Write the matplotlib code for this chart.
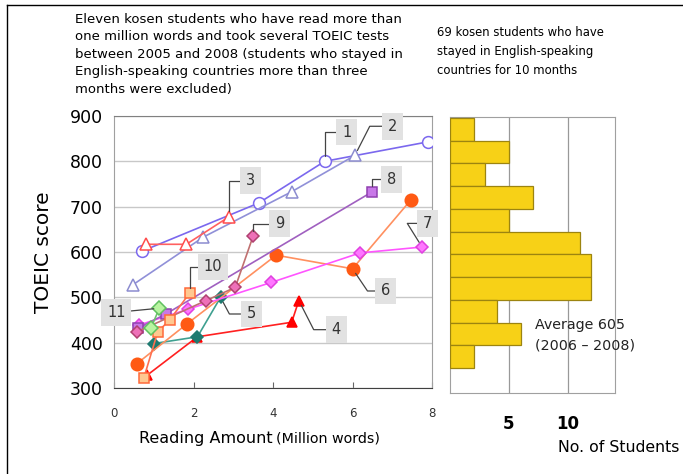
import matplotlib
matplotlib.use('Agg')
import matplotlib.pyplot as plt
from matplotlib.lines import Line2D

# reading amount (million words) vs TOEIC score, one list pair per student
s1_x = [0.71, 3.64, 5.30, 7.90]
s1_y = [602, 708, 800, 843]
s2_x = [0.48, 2.25, 4.47, 6.06]
s2_y = [528, 633, 733, 813]
s3_x = [0.81, 1.82, 2.90]
s3_y = [617, 617, 678]
s4_x = [0.83, 2.10, 4.47, 4.65]
s4_y = [328, 413, 445, 493]
s5_x = [1.00, 2.10, 2.68]
s5_y = [398, 413, 500]
s6_x = [0.58, 1.83, 4.08, 6.00, 7.47]
s6_y = [354, 441, 593, 563, 715]
s7_x = [0.63, 1.87, 3.96, 6.19, 7.75]
s7_y = [439, 474, 533, 598, 611]
s8_x = [0.60, 1.30, 6.50]
s8_y = [432, 463, 733]
s9_x = [0.58, 2.32, 3.05, 3.50]
s9_y = [424, 493, 522, 635]
s10_x = [0.75, 1.10, 1.40, 1.90]
s10_y = [322, 424, 450, 509]
s11_x = [0.93, 1.14]
s11_y = [432, 476]

# 69 students, TOEIC histogram (bin lower edges, counts)
bin_low = [850, 800, 750, 700, 650, 600, 550, 500, 450, 400, 350]
counts = [2, 5, 3, 7, 5, 11, 12, 12, 4, 6, 2]

fig = plt.figure(figsize=(6.83, 4.74), dpi=100)
W, H = 683.0, 474.0

ax = fig.add_axes([114/W, 1-388/H, 318/W, 272/H])
ax.set_xlim(0, 8)
ax.set_ylim(300, 900)

# (x, y, line colour, marker, face, edge, size, label, point idx, offset, angleB)
series = [
    (s1_x, s1_y, '#7b68ee', 'o', 'white', '#7b68ee', 8.5, '1', 2, (16, 21), 90),
    (s2_x, s2_y, '#9090d8', '^', 'white', '#8c8cd0', 8, '2', 3, (27, 21), 63),
    (s3_x, s3_y, '#ff6060', '^', 'white', '#ff4d4d', 8, '3', 2, (15, 26), 90),
    (s4_x, s4_y, '#ff2020', '^', '#ff0000', '#ff0000', 7.5, '4', 3, (27, -21), 117),
    (s5_x, s5_y, '#3fa090', 'D', '#1e7a70', '#1e7a70', 6.5, '5', 2, (22, -12), 118),
    (s6_x, s6_y, '#ff9060', 'o', '#ff5a14', '#ff5a14', 9, '6', 3, (24, -16), 124),
    (s7_x, s7_y, '#ff55ff', 'D', '#ff77ff', '#e040e0', 6.5, '7', 4, (4, 17), 122),
    (s8_x, s8_y, '#a060c0', 's', '#c878e8', '#9040b0', 6.5, '8', 2, (14, 9), 90),
    (s9_x, s9_y, '#c07070', 'D', '#ee70b8', '#b04070', 6.5, '9', 3, (19, 9), 90),
    (s10_x, s10_y, '#ff7050', 's', '#ffc890', '#ff6a3a', 7, '10', 3, (17, 19), 90),
    (s11_x, s11_y, '#70c070', 'D', '#b8f4a0', '#60c060', 7, '11', 1, (-31, -3), None),
]

for xs, ys, lc, mk, fc, ec, ms, lab, i, off, angB in series:
    ax.plot(xs, ys, color=lc, lw=1.2, marker=mk, mfc=fc, mec=ec, ms=ms,
            mew=1.1, zorder=3)
    if angB is None:
        cs = 'arc3,rad=0'
    else:
        cs = 'angle,angleA=0,angleB=%d,rad=0' % angB
    ax.annotate(lab, xy=(xs[i], ys[i]), xytext=off, textcoords='offset points',
                ha='center', va='center', fontsize=10.5, color='#333333',
                bbox=dict(boxstyle='square,pad=0.4', fc='#e2e2e2', ec='none'),
                arrowprops=dict(arrowstyle='-', color='#444444', lw=0.9,
                                connectionstyle=cs, shrinkA=0, shrinkB=4),
                zorder=5, annotation_clip=False)

ax.set_yticks([300, 400, 500, 600, 700, 800, 900])
ax.set_xticks([0, 2, 4, 6, 8])
ax.tick_params(axis='y', length=0, labelsize=12.5, pad=8)
ax.tick_params(axis='x', direction='in', length=4, labelsize=8.5,
               labelcolor='#333333', color='#666666', pad=14)
ax.grid(axis='y', color='#c8c8c8', lw=1)
ax.set_axisbelow(True)
for k in ['left', 'right', 'top']:
    ax.spines[k].set_color('#a0a0a0')
ax.spines['top'].set_color('#808080')
ax.spines['bottom'].set_color('#404040')
ax.set_ylabel('TOEIC score', fontsize=14.5, labelpad=12)

# histogram
hx = fig.add_axes([450/W, 1-393/H, 165/W, 276/H])
hx.barh(bin_low, counts, height=50, align='edge', color='#f7d117',
        edgecolor='#9c8410', lw=0.9, zorder=3)
hx.set_xlim(0, 14)
hx.set_ylim(295, 902)
hx.set_yticks([])
hx.set_xticks([5, 10])
hx.set_xticklabels(['5', '10'], fontsize=12, fontweight='bold')
hx.tick_params(axis='x', length=0, pad=16)
hx.grid(axis='x', color='#999999', lw=0.9)
hx.set_axisbelow(True)
for k in hx.spines:
    hx.spines[k].set_color('#a0a0a0')
hx.text(7.2, 422, 'Average 605\n(2006 \u2013 2008)', fontsize=10.3,
        va='center', ha='left', linespacing=1.6, color='#222222')

# captions
fig.text(75/W, 1-13/H, 'Eleven kosen students who have read more than\n'
         'one million words and took several TOEIC tests\n'
         'between 2005 and 2008 (students who stayed in\n'
         'English-speaking countries more than three\n'
         'months were excluded)', fontsize=9.5, va='top', ha='left',
         linespacing=1.44)
fig.text(437/W, 1-26/H, '69 kosen students who have\n'
         'stayed in English-speaking\ncountries for 10 months',
         fontsize=8.4, va='top', ha='left', linespacing=1.62)
fig.text(273/W, 1-439/H, 'Reading Amount', fontsize=11.5, ha='right',
         va='center')
fig.text(276/W, 1-439/H, '(Million words)', fontsize=10.3, ha='left',
         va='center')
fig.text(679/W, 1-448/H, 'No. of Students', fontsize=11.3, ha='right',
         va='center')

# outer frame (top and left edges only)
fig.add_artist(Line2D([7/W, 1], [1-5/H, 1-5/H], color='black', lw=1))
fig.add_artist(Line2D([7/W, 7/W], [0, 1-5/H], color='black', lw=1))

fig.savefig('out.png', dpi=100)
